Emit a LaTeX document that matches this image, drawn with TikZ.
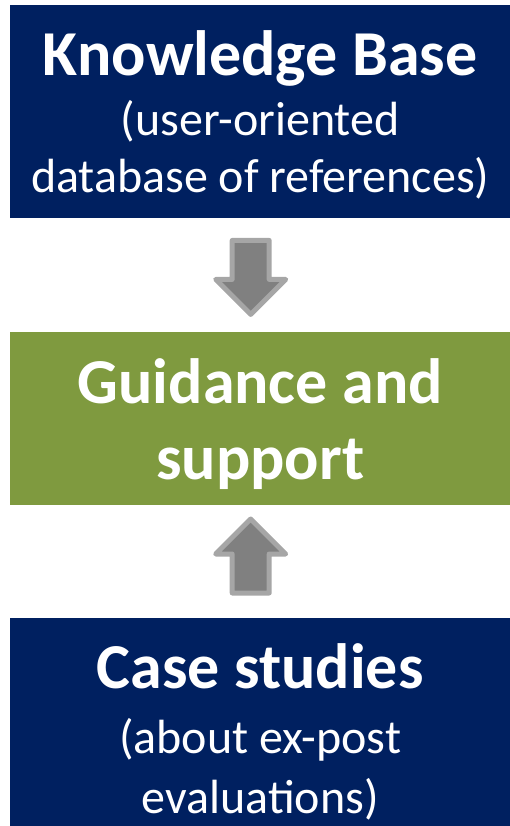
\documentclass[tikz,border=0pt]{standalone}
\usepackage{fontspec}
\setmainfont{Carlito}
\usetikzlibrary{positioning,shapes.arrows,calc}

\definecolor{navy}{HTML}{002060}
\definecolor{olive}{HTML}{7F9A3F}
\definecolor{arrowfill}{HTML}{808080}
\definecolor{arrowline}{HTML}{A6A6A6}

\newcommand{\headline}[1]{{\fontsize{64}{76}\selectfont\bfseries #1}}
\newcommand{\topstrut}[1]{\rule{0pt}{#1pt}}

\begin{document}
\begin{tikzpicture}[x=1pt,y=-1pt,
    box/.style={fill=#1, text=white, minimum width=500pt, inner sep=0pt,
      align=center, anchor=north west, font=\fontsize{48}{57}\selectfont},
    blockarrow/.style={single arrow, draw=arrowline, fill=arrowfill, line width=5pt,
      line join=round, minimum height=74pt, inner sep=0pt, anchor=tail,
      single arrow head extend=16.5pt, single arrow tip angle=90, rotate=#1}]
    \useasboundingbox (0,0) rectangle (510,826);

    \node[box=navy, minimum height=213pt] (kb) at (10,5)
      {\topstrut{52}\headline{Knowledge Base}\\[3pt](user-oriented\\database of references)};
    \node[box=olive, minimum height=173pt, font=\fontsize{64}{76}\selectfont] (guide) at (10,332)
      {\topstrut{56}\headline{Guidance and}\\\headline{support}};
    \node[box=navy, minimum height=208pt] (cases) at (10,618)
      {\topstrut{64}\headline{Case studies}\\[8pt](about ex-post\\[3pt]evaluations)};

    \node[blockarrow=-90] (down) at ($(kb.south)+(-9.5,19.5)$) {\rule{0pt}{32pt}};
    \node[blockarrow=90] (up) at ($(cases.north)+(-9.5,-22.5)$) {\rule{0pt}{32pt}};
  \end{tikzpicture}
\end{document}
